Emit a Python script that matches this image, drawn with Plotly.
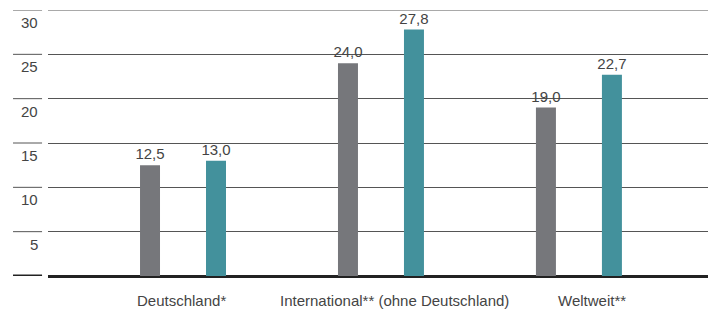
import plotly.graph_objects as go

categories = ["Deutschland*", "International** (ohne Deutschland)", "Weltweit**"]
series_a = [12.5, 24.0, 19.0]
series_b = [13.0, 27.8, 22.7]
y_ticks = [5, 10, 15, 20, 25, 30]

GRAY = "#76777b"
TEAL = "#43919c"
TXT = "#444444"
GRID = "#555555"
FONT = "Liberation Sans, Arial, sans-serif"

def fmt(v):
    return f"{v:.1f}".replace(".", ",")

fig = go.Figure()
for vals, col in ((series_a, GRAY), (series_b, TEAL)):
    fig.add_trace(go.Bar(x=categories, y=vals, marker=dict(color=col, line=dict(width=0)),
                         text=[fmt(v) for v in vals], textposition="outside",
                         constraintext="none",
                         textfont=dict(family=FONT, size=15, color=TXT), cliponaxis=False))

annotations = []
shapes = []
for t in y_ticks:
    annotations.append(dict(x=-0.012, xref="paper", y=t, yref="y", text=str(t),
                            showarrow=False, xanchor="right", yanchor="top", yshift=-2,
                            font=dict(family=FONT, size=15, color=TXT)))
    shapes.append(dict(type="line", xref="paper", yref="y", x0=-0.053, x1=-0.009, y0=t, y1=t,
                       line=dict(color=GRID, width=1)))
# top gridline (at range edge)
shapes.append(dict(type="line", xref="paper", yref="y", x0=0, x1=1, y0=y_ticks[-1], y1=y_ticks[-1],
                   line=dict(color=GRID, width=1), layer="below"))
shapes.append(dict(type="line", xref="paper", yref="y", x0=-0.053, x1=-0.009, y0=0, y1=0,
                   line=dict(color="#222222", width=3)))

label_shift = [-2, 14, 13]
for c, s in zip(categories, label_shift):
    annotations.append(dict(x=c, xref="x", y=0, yref="paper", text=c, showarrow=False,
                            xanchor="center", yanchor="middle", xshift=s, yshift=-24,
                            font=dict(family=FONT, size=15, color=TXT)))

fig.update_layout(
    width=713, height=311,
    margin=dict(l=48, r=5, t=10, b=35),
    plot_bgcolor="white", paper_bgcolor="white",
    barmode="group", bargap=0.3333, bargroupgap=0.697,
    showlegend=False,
    xaxis=dict(range=[-0.682, 2.652], showticklabels=False, showgrid=False,
               zeroline=False, showline=False, ticks=""),
    yaxis=dict(range=[0, 30], tickvals=y_ticks, showticklabels=False, showgrid=True,
               gridcolor=GRID, gridwidth=1, zeroline=True, zerolinecolor="#222222",
               zerolinewidth=3, showline=False, ticks=""),
    annotations=annotations, shapes=shapes,
)

fig.write_html("out.html", config={"displayModeBar": False},
               post_script="document.body.style.margin='0';document.body.style.overflow='hidden';")
